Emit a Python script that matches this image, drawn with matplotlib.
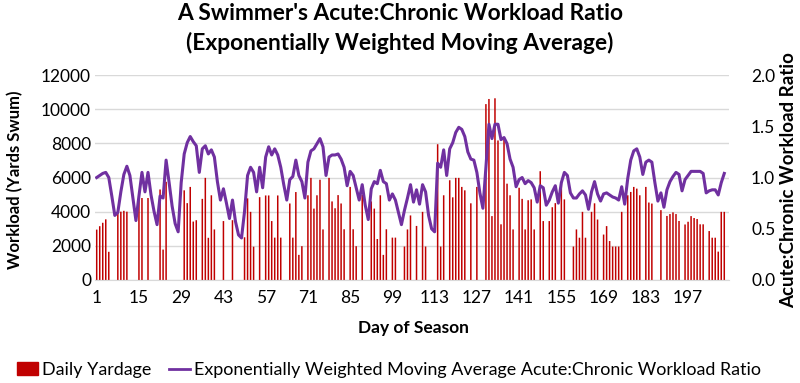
import matplotlib.pyplot as plt
import numpy as np
from matplotlib.lines import Line2D
from matplotlib.patches import Patch

plt.rcParams['font.family'] = ['Lato', 'DejaVu Sans']

# day of season 1..210
days = np.arange(1, 211)

# daily yardage, only swim days listed (other days = 0)
yard_days = [1, 2, 3, 4, 5, 8, 9, 10, 11, 15, 16, 18, 22, 23, 24,
             30, 31, 32, 33, 34, 36, 37, 38, 39, 40, 43, 46,
             50, 51, 52, 53, 55, 57, 58, 59, 60, 61, 62,
             65, 66, 67, 68, 69, 71, 72, 73, 74, 75, 76,
             78, 79, 80, 81, 82, 83, 85, 86, 87, 89,
             92, 93, 94, 95, 96, 97, 99, 100, 103, 104, 105, 107, 109, 110,
             114, 115, 116, 118, 119, 120, 121, 122, 123, 125, 127,
             130, 131, 132, 133, 134, 135, 136, 137, 138, 139,
             141, 142, 143, 144, 145, 146, 148, 149, 151, 152, 153, 155, 156,
             159, 160, 161, 162, 163, 165, 166, 167,
             169, 170, 171, 172, 173, 174, 175,
             177, 178, 179, 180, 181, 183, 184, 185,
             188, 190, 191, 192, 193, 194, 196, 197, 198, 199, 200, 201, 202,
             204, 205, 206, 207, 208, 209]
yard_vals = [2950, 3150, 3350, 3550, 1650, 4000, 4000, 4050, 4000, 4800, 4800, 4800, 5300, 1780, 5750,
             5250, 4500, 5450, 3420, 3500, 4750, 5980, 2470, 4960, 2960, 3450, 3500,
             2500, 4780, 3990, 1950, 4850, 4950, 4950, 3450, 2480, 4950, 2480,
             4480, 2480, 5150, 1470, 1980, 4960, 5980, 4180, 4960, 5870, 2960,
             5980, 4600, 4200, 4970, 4480, 2970, 5450, 2970, 1980, 4990,
             4600, 4180, 2400, 4960, 1470, 2970, 2480, 2480, 1960, 2960, 3780, 3165, 3990, 1960,
             7950, 1960, 4960, 5840, 4840, 5980, 5980, 5450, 5250, 4490, 5450,
             10300, 10600, 3740, 10640, 8170, 3260, 8200, 5640, 4960, 2960,
             5400, 4750, 2960, 4670, 4720, 2960, 6370, 3450, 3450, 4260, 4500, 5740, 4720,
             1960, 2960, 2475, 3990, 2475, 3990, 4490, 3540,
             2660, 3155, 2280, 1960, 1960, 1960, 3990,
             4960, 5155, 5450, 5350, 4960, 5450, 4535, 4475,
             4090, 3750, 3860, 3960, 3860, 3455, 3250, 3410, 3740, 3630, 3570, 3260, 3260,
             2865, 2475, 2475, 1660, 3990, 3990]

# EWMA acute:chronic workload ratio, days 1..209
acwr = [1.00, 1.02, 1.04, 1.05, 1.00, 0.82, 0.63, 0.66, 0.86, 1.03,
        1.11, 1.02, 0.80, 0.58, 0.82, 1.05, 0.86, 1.05, 0.83, 0.67,
        0.54, 0.82, 0.80, 1.17, 0.95, 0.72, 0.55, 0.47, 0.95, 1.23,
        1.34, 1.40, 1.35, 1.31, 1.05, 1.28, 1.31, 1.23, 1.27, 1.20,
        0.96, 0.78, 0.89, 0.75, 0.60, 0.78, 0.57, 0.44, 0.41, 0.67,
        1.02, 1.10, 1.05, 0.86, 1.10, 0.90, 1.20, 1.30, 1.22, 1.28,
        1.22, 1.10, 0.93, 0.78, 0.98, 1.01, 1.17, 1.02, 0.96, 0.80,
        1.15, 1.26, 1.28, 1.33, 1.38, 1.30, 1.02, 1.20, 1.22, 1.22,
        1.23, 1.18, 1.10, 0.92, 1.06, 1.02, 0.90, 0.78, 0.93, 0.73,
        0.59, 0.89, 0.96, 0.94, 1.07, 0.96, 0.94, 0.78, 0.84, 0.78,
        0.66, 0.54, 0.68, 0.80, 0.93, 0.76, 0.88, 0.74, 0.93, 0.86,
        0.63, 0.50, 0.47, 1.14, 1.10, 1.27, 1.02, 1.28, 1.34, 1.44,
        1.49, 1.47, 1.40, 1.25, 1.18, 1.17, 1.05, 0.85, 0.70, 1.10,
        1.52, 1.38, 1.52, 1.52, 1.37, 1.39, 1.33, 1.18, 1.10, 0.91,
        0.98, 1.00, 0.94, 0.97, 0.95, 0.90, 0.76, 0.92, 0.90, 0.73,
        0.78, 0.86, 0.92, 0.75, 0.95, 1.05, 1.02, 0.85, 0.80, 0.80,
        0.84, 0.87, 0.83, 0.69, 0.86, 0.96, 0.84, 0.77, 0.84, 0.85,
        0.83, 0.81, 0.80, 0.78, 0.91, 0.74, 0.99, 1.17, 1.26, 1.28,
        1.20, 1.03, 1.15, 1.17, 1.15, 0.95, 0.77, 0.85, 0.71, 0.88,
        0.96, 1.01, 1.05, 1.03, 0.87, 0.98, 1.02, 1.06, 1.06, 1.06,
        1.06, 1.04, 0.85, 0.87, 0.88, 0.88, 0.83, 0.95, 1.04]

tick_days = list(range(1, 211, 14))

yardage = np.zeros(len(days))
yardage[np.array(yard_days) - 1] = yard_vals
ratio = np.full(len(days), np.nan)
ratio[:len(acwr)] = acwr

RED = '#C00000'
PURPLE = '#7030A0'
GRID = '#D9D9D9'

fig = plt.figure(figsize=(8, 3.83), dpi=100)
ax = fig.add_axes([0.119, 0.269, 0.792, 0.535])
ax2 = ax.twinx()

ax.bar(days, yardage, width=0.5, color=RED, linewidth=0, snap=False, zorder=2)
ax.set_ylim(0, 12000)
ax.set_yticks(range(0, 12001, 2000))
ax.set_xlim(0.5, 210.5)
ax.set_xticks(tick_days)
ax.grid(axis='y', color=GRID, linewidth=1, zorder=0)
ax.set_axisbelow(True)

ax2.plot(days, ratio, color=PURPLE, linewidth=2.2, zorder=3)
ax2.set_ylim(0, 2.0)
ax2.set_yticks(np.arange(0, 2.01, 0.5))
ax2.set_yticklabels([f'{v:.1f}' for v in np.arange(0, 2.01, 0.5)])

for a in (ax, ax2):
    for s in a.spines.values():
        s.set_visible(False)
    a.tick_params(length=0, labelsize=12.5, colors='#000000')
ax.spines['bottom'].set_visible(True)
ax.spines['bottom'].set_color(GRID)
ax.tick_params(axis='y', pad=3)
ax.tick_params(axis='x', pad=7)
ax2.tick_params(axis='y', pad=16)

fig.text(0.5, 1 - 14 / 383, "A Swimmer's Acute:Chronic Workload Ratio",
         ha='center', va='center', fontsize=16.4, fontweight='bold')
fig.text(0.5, 1 - 43 / 383, "(Exponentially Weighted Moving Average)",
         ha='center', va='center', fontsize=16.4, fontweight='bold')
fig.text(0.019, 1 - 180 / 383, 'Workload (Yards Swum)', rotation=90,
         ha='center', va='center', fontsize=12, fontweight='bold')
fig.text(0.986, 1 - 180 / 383, 'Acute:Chronic Workload Ratio', rotation=90,
         ha='center', va='center', fontsize=13.5, fontweight='bold')
fig.text(0.517, 1 - 328 / 383, 'Day of Season',
         ha='center', va='center', fontsize=12.5, fontweight='bold')

handles = [Patch(color=RED, label='Daily Yardage'),
           Line2D([0], [0], color=PURPLE, linewidth=2,
                  label='Exponentially Weighted Moving Average Acute:Chronic Workload Ratio')]
fig.legend(handles=handles, loc='center', bbox_to_anchor=(0.486, 1 - 370 / 383),
           ncol=2, frameon=False, fontsize=12.9, handlelength=1.2,
           handletextpad=0.2, columnspacing=1.0)

fig.savefig('out.png', dpi=100)
